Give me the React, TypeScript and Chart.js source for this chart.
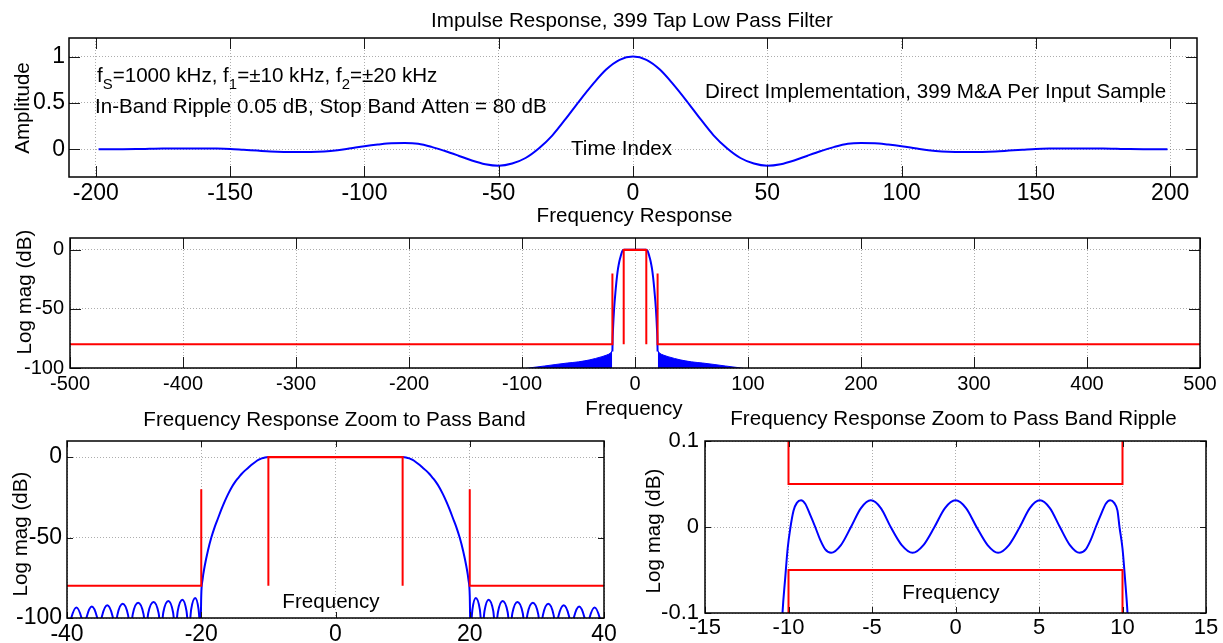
import React, { useEffect, useRef } from 'react';
import { Chart, registerables } from 'chart.js';

Chart.register(...registerables);

const W = 1223;
const H = 643;
const FAMILY = "'Liberation Sans', Arial, Helvetica, sans-serif";
const BLUE = '#0000ff';
const RED = '#ff0000';
const GRID = 'rgba(0,0,0,0.32)';
const TEXT_SIZE = 20.6;

// ---------- Impulse response (time index vs amplitude) ----------
const impulseIndex = [
  -199, -195, -190, -185, -180, -175, -170, -165, -160, -155, -150, -145, -140, -135, -130, -125, -120, -115, -110, -105,
  -100, -95, -90, -85, -80, -75, -70, -65, -60, -55, -50, -45, -40, -35, -30, -25, -20, -15, -10, -5,
  0, 5, 10, 15, 20, 25, 30, 35, 40, 45, 50, 55, 60, 65, 70, 75, 80, 85, 90, 95,
  100, 105, 110, 115, 120, 125, 130, 135, 140, 145, 150, 155, 160, 165, 170, 175, 180, 185, 190, 195, 199,
];
const impulseAmp = [
  0, 0, 0, 0.001, 0.004, 0.007, 0.008, 0.008, 0.008, 0.007, 0.003, -0.006, -0.015, -0.024, -0.029, -0.03, -0.03, -0.026, -0.012, 0.01,
  0.032, 0.05, 0.064, 0.066, 0.058, 0.025, -0.02, -0.07, -0.122, -0.162, -0.178, -0.155, -0.095, 0.01, 0.15, 0.33, 0.52, 0.7, 0.86, 0.965,
  1.0, 0.965, 0.86, 0.7, 0.52, 0.33, 0.15, 0.01, -0.095, -0.155, -0.178, -0.162, -0.122, -0.07, -0.02, 0.025, 0.058, 0.066, 0.064, 0.05,
  0.032, 0.01, -0.012, -0.026, -0.03, -0.03, -0.029, -0.024, -0.015, -0.006, 0.003, 0.007, 0.008, 0.008, 0.008, 0.007, 0.004, 0.001, 0, 0, 0,
];
const impulseXTicks = [-200, -150, -100, -50, 0, 50, 100, 150, 200];
const impulseYTicks = [0, 0.5, 1];

// ---------- Frequency response: stop band lobes and main lobe (kHz vs dB) ----------
const stopLeftF = [
  -40.9, -40.1, -39.75,
  -39.4, -38.6, -37.8, -37.45,
  -37.1, -36.3, -35.5, -35.15,
  -34.8, -34.0, -33.2, -32.85,
  -32.5, -31.7, -30.9, -30.55,
  -30.2, -29.4, -28.6, -28.25,
  -27.9, -27.1, -26.35, -26.0,
  -25.65, -24.9, -24.2, -23.85,
  -23.5, -22.8, -22.2, -21.85,
  -21.5, -20.9, -20.4, -20.1,
];
const stopLeftDb = [
  -94, -101, -108,
  -100.5, -93.5, -100.5, -108,
  -99.8, -92.8, -99.8, -108,
  -99, -92, -99, -108,
  -98.2, -91.2, -98.2, -108,
  -97.6, -90.6, -97.6, -108,
  -97, -90, -97, -108,
  -96.4, -89.4, -96.4, -108,
  -95.6, -88.6, -95.6, -108,
  -94.6, -87.6, -94.6, -108,
];
const mainLobeF = [
  -20.0, -19.8, -19.5, -19, -18.5, -18, -17.5, -17, -16.5, -16, -15.5, -15, -14.5, -14, -13.5, -13, -12.5, -12, -11.5, -11, -10.5,
  -10, -5, 0, 5, 10,
  10.5, 11, 11.5, 12, 12.5, 13, 13.5, 14, 14.5, 15, 15.5, 16, 16.5, 17, 17.5, 18, 18.5, 19, 19.5, 19.8, 20.0,
];
const mainLobeDb = [
  -86, -76, -68, -58, -50, -43.5, -38, -32.5, -27.5, -23, -19, -15.7, -13, -10.5, -8.4, -6.6, -4.8, -3.2, -1.8, -0.8, -0.2,
  0, 0, 0, 0, 0,
  -0.2, -0.8, -1.8, -3.2, -4.8, -6.6, -8.4, -10.5, -13, -15.7, -19, -23, -27.5, -32.5, -38, -43.5, -50, -58, -68, -76, -86,
];
const stopRightF = [
  20.1, 20.4, 20.9, 21.5,
  21.85, 22.2, 22.8, 23.5,
  23.85, 24.2, 24.9, 25.65,
  26.0, 26.35, 27.1, 27.9,
  28.25, 28.6, 29.4, 30.2,
  30.55, 30.9, 31.7, 32.5,
  32.85, 33.2, 34.0, 34.8,
  35.15, 35.5, 36.3, 37.1,
  37.45, 37.8, 38.6, 39.4,
  39.75, 40.1, 40.9,
];
const stopRightDb = [
  -108, -94.6, -87.6, -94.6,
  -108, -95.6, -88.6, -95.6,
  -108, -96.4, -89.4, -96.4,
  -108, -97, -90, -97,
  -108, -97.6, -90.6, -97.6,
  -108, -98.2, -91.2, -98.2,
  -108, -99, -92, -99,
  -108, -99.8, -92.8, -99.8,
  -108, -100.5, -93.5, -100.5,
  -108, -101, -94,
];
// Dense side-lobe envelope seen on the full-span plot
const envLeftF = [-97, -90, -80, -70, -60, -50, -40, -30, -25, -22, -20.2];
const envLeftDb = [-100.5, -99.5, -98.3, -97, -95.8, -94.8, -93.1, -90.6, -89, -87.6, -85.5];
const envRightF = [20.2, 22, 25, 30, 40, 50, 60, 70, 80, 90, 97];
const envRightDb = [-85.5, -87.6, -89, -90.6, -93.1, -94.8, -95.8, -97, -98.3, -99.5, -100.5];

// ---------- Specification masks (red) ----------
const stopMaskLeftF = [-500, -20, -20];
const stopMaskLeftDb = [-80, -80, -20];
const stopMaskRightF = [20, 20, 500];
const stopMaskRightDb = [-20, -80, -80];
const passUpperF = [-10, -10, 10, 10];
const passUpperDb = [0.2, 0.05, 0.05, 0.2];
const passLowerF = [-10, -10, 10, 10];
const passLowerDb = [-80, -0.05, -0.05, -80];

// ---------- Pass band ripple ----------
const rippleF = [
  -10.5, -10.36, -10.2, -10.05, -9.88, -9.7, -9.5, -9.25, -9.0, -8.7, -8.4, -8.1, -7.8, -7.45, -6.86, -6.26, -5.66, -5.07, -4.47, -3.88,
  -3.22, -2.57, -1.92, -1.26, -0.63, 0, 0.63, 1.26, 1.92, 2.55, 3.2, 3.85, 4.45, 5.05, 5.65, 6.25, 6.85, 7.43, 7.8, 8.1,
  8.4, 8.7, 9.0, 9.26, 9.5, 9.7, 9.82, 10.0, 10.15, 10.3, 10.45,
];
const rippleDb = [
  -0.16, -0.1, -0.06, -0.025, 0, 0.019, 0.028, 0.031, 0.027, 0.014, 0, -0.015, -0.026, -0.03, -0.021, 0, 0.022, 0.031, 0.022, 0,
  -0.021, -0.03, -0.021, 0, 0.022, 0.031, 0.022, 0, -0.021, -0.03, -0.021, 0, 0.022, 0.031, 0.022, 0, -0.021, -0.03, -0.026, -0.015,
  0, 0.014, 0.027, 0.031, 0.028, 0.019, 0, -0.025, -0.06, -0.1, -0.16,
];

const fullXTicks = [-500, -400, -300, -200, -100, 0, 100, 200, 300, 400, 500];
const dbYTicks = [-100, -50, 0];
const passXTicks = [-40, -20, 0, 20, 40];
const rippleXTicks = [-15, -10, -5, 0, 5, 10, 15];
const rippleYTicks = [-0.1, 0, 0.1];

// ---------- helpers ----------
const pts = (xs: number[], ys: number[]) => xs.map((x, i) => ({ x, y: ys[i] }));
const concat = (...arrs: number[][]) => arrs.reduce((a, b) => a.concat(b), [] as number[]);

const lineSet = (data: any[], color: string, smooth: boolean, extra: any = {}) => ({
  data,
  borderColor: color,
  backgroundColor: color,
  borderWidth: 2,
  pointRadius: 0,
  fill: false,
  clip: 0,
  tension: 0,
  cubicInterpolationMode: smooth ? 'monotone' : 'default',
  ...extra,
});

const maskSets = () => [
  lineSet(pts(stopMaskLeftF, stopMaskLeftDb), RED, false),
  lineSet(pts(stopMaskRightF, stopMaskRightDb), RED, false),
  lineSet(pts(passUpperF, passUpperDb), RED, false),
  lineSet(pts(passLowerF, passLowerDb), RED, false),
];

const matlabPlugin = {
  id: 'matlab',
  afterDraw(chart: any, _args: any, opts: any) {
    const ctx = chart.ctx;
    const { left, top, right, bottom } = chart.chartArea;
    const xs = chart.scales.x;
    const ys = chart.scales.y;
    const L = opts.tickLen || 8;
    ctx.save();
    ctx.strokeStyle = '#1a1a1a';
    ctx.lineWidth = 1;
    ctx.beginPath();
    xs.ticks.forEach((t: any) => {
      const p = Math.round(xs.getPixelForValue(t.value)) + 0.5;
      ctx.moveTo(p, bottom);
      ctx.lineTo(p, bottom - L);
      ctx.moveTo(p, top);
      ctx.lineTo(p, top + L);
    });
    ys.ticks.forEach((t: any) => {
      const p = Math.round(ys.getPixelForValue(t.value)) + 0.5;
      ctx.moveTo(left, p);
      ctx.lineTo(left + L, p);
      ctx.moveTo(right, p);
      ctx.lineTo(right - L, p);
    });
    ctx.stroke();
    ctx.lineWidth = 1.5;
    ctx.strokeStyle = '#000';
    ctx.strokeRect(left, top, right - left, bottom - top);

    ctx.fillStyle = '#000';
    ctx.textBaseline = 'alphabetic';
    for (const item of opts.texts || []) {
      const size = item.size || TEXT_SIZE;
      ctx.font = `${size}px ${FAMILY}`;
      if (item.parts) {
        let x = item.x;
        ctx.textAlign = 'left';
        for (const part of item.parts) {
          const s = part.sub ? 14.9 : size;
          ctx.font = `${s}px ${FAMILY}`;
          ctx.fillText(part.t, x, part.sub ? item.y + 7 : item.y);
          x += ctx.measureText(part.t).width;
        }
      } else if (item.rotate) {
        ctx.save();
        ctx.translate(item.x, item.y);
        ctx.rotate(-Math.PI / 2);
        ctx.textAlign = 'center';
        ctx.fillText(item.text, 0, 0);
        ctx.restore();
      } else {
        ctx.textAlign = item.align || 'left';
        ctx.fillText(item.text, item.x, item.y);
      }
    }
    ctx.restore();
  },
};

const Y_AXIS_W = 64;

const axis = (min: number, max: number, ticks: number[], size: number, pad: number, isX: boolean, xAxisH: number) => ({
  type: 'linear',
  min,
  max,
  afterBuildTicks: (ax: any) => {
    ax.ticks = ticks.map((v) => ({ value: v }));
  },
  afterFit: (ax: any) => {
    if (isX) ax.height = xAxisH;
    else ax.width = Y_AXIS_W;
  },
  ticks: {
    autoSkip: false,
    maxRotation: 0,
    minRotation: 0,
    padding: pad,
    color: '#000',
    font: { family: FAMILY, size },
    callback: (v: any) => String(v),
  },
  grid: { color: GRID, lineWidth: 1, drawTicks: false },
  border: { display: false, dash: [1, 2] },
});

const buildConfig = (p: any) => {
  const xAxisH = Math.min(40, H - p.box.bottom);
  return {
    type: 'line',
    data: { datasets: p.datasets },
    options: {
      animation: false,
      responsive: false,
      events: [],
      layout: {
        autoPadding: false,
        padding: {
          left: p.box.left - Y_AXIS_W,
          top: p.box.top,
          right: W - p.box.right,
          bottom: H - p.box.bottom - xAxisH,
        },
      },
      plugins: {
        legend: { display: false },
        tooltip: { enabled: false },
        title: { display: false },
        matlab: { tickLen: p.tickLen, texts: p.texts },
      },
      scales: {
        x: axis(p.x[0], p.x[1], p.xTicks, p.tickSize, p.xPad, true, xAxisH),
        y: axis(p.y[0], p.y[1], p.yTicks, p.tickSize, p.yPad, false, xAxisH),
      },
    },
    plugins: [matlabPlugin],
  };
};

const panels = [
  {
    box: { left: 69, top: 38, right: 1197, bottom: 177 },
    x: [-210, 210],
    y: [-0.3, 1.2],
    xTicks: impulseXTicks,
    yTicks: impulseYTicks,
    tickSize: 23,
    xPad: 3,
    yPad: 4,
    tickLen: 11,
    datasets: [lineSet(pts(impulseIndex, impulseAmp), BLUE, true)],
    texts: [
      { text: 'Impulse Response, 399 Tap Low Pass Filter', x: 632, y: 27, align: 'center' },
      { text: 'Amplitude', x: 29, y: 108, rotate: true },
      {
        parts: [
          { t: 'f' }, { t: 'S', sub: true }, { t: '=1000 kHz, f' }, { t: '1', sub: true },
          { t: '=±10 kHz, f' }, { t: '2', sub: true }, { t: '=±20 kHz' },
        ],
        x: 97,
        y: 82,
      },
      { text: 'In-Band Ripple 0.05 dB, Stop Band Atten = 80 dB', x: 95, y: 113 },
      { text: 'Direct Implementation, 399 M&A Per Input Sample', x: 705, y: 98 },
      { text: 'Time Index', x: 571, y: 155 },
    ],
  },
  {
    box: { left: 70, top: 238, right: 1200, bottom: 368 },
    x: [-500, 500],
    y: [-100, 10],
    xTicks: fullXTicks,
    yTicks: dbYTicks,
    tickSize: 20,
    xPad: 4,
    yPad: 6,
    tickLen: 11,
    datasets: [
      ...maskSets(),
      lineSet(pts(mainLobeF, mainLobeDb), BLUE, true),
      lineSet(pts(envLeftF, envLeftDb), BLUE, true, { fill: 'start', borderWidth: 1 }),
      lineSet(pts(envRightF, envRightDb), BLUE, true, { fill: 'start', borderWidth: 1 }),
    ],
    texts: [
      { text: 'Frequency Response', x: 634.5, y: 222, align: 'center' },
      { text: 'Log mag (dB)', x: 31, y: 292, rotate: true },
      { text: 'Frequency', x: 634, y: 415, align: 'center' },
    ],
  },
  {
    box: { left: 67, top: 441, right: 604, bottom: 618 },
    x: [-40, 40],
    y: [-100, 10],
    xTicks: passXTicks,
    yTicks: dbYTicks,
    tickSize: 23,
    xPad: 3,
    yPad: 5,
    tickLen: 6,
    datasets: [
      ...maskSets(),
      lineSet(pts(concat(stopLeftF, mainLobeF, stopRightF), concat(stopLeftDb, mainLobeDb, stopRightDb)), BLUE, true),
    ],
    texts: [
      { text: 'Frequency Response Zoom to Pass Band', x: 334.5, y: 426, align: 'center' },
      { text: 'Log mag (dB)', x: 27, y: 534, rotate: true },
      { text: 'Frequency', x: 331, y: 608, align: 'center' },
    ],
  },
  {
    box: { left: 705, top: 441, right: 1206, bottom: 613 },
    x: [-15, 15],
    y: [-0.1, 0.1],
    xTicks: rippleXTicks,
    yTicks: rippleYTicks,
    tickSize: 22,
    xPad: 2,
    yPad: 6,
    tickLen: 6,
    datasets: [...maskSets(), lineSet(pts(rippleF, rippleDb), BLUE, true)],
    texts: [
      { text: 'Frequency Response Zoom to Pass Band Ripple', x: 953.5, y: 425, align: 'center' },
      { text: 'Log mag (dB)', x: 660, y: 531, rotate: true },
      { text: 'Frequency', x: 951, y: 599, align: 'center' },
    ],
  },
];

function Panel({ spec }: { spec: any }) {
  const ref = useRef<HTMLCanvasElement | null>(null);
  useEffect(() => {
    if (!ref.current) return;
    const chart = new Chart(ref.current, buildConfig(spec) as any);
    return () => chart.destroy();
  }, [spec]);
  return (
    <canvas
      ref={ref}
      width={W}
      height={H}
      style={{ position: 'absolute', left: 0, top: 0, width: W, height: H }}
    />
  );
}

export default function App() {
  return (
    <div style={{ position: 'fixed', left: 0, top: 0, width: W, height: H, background: '#fff', overflow: 'hidden' }}>
      {panels.map((p, i) => (
        <Panel key={i} spec={p} />
      ))}
    </div>
  );
}
